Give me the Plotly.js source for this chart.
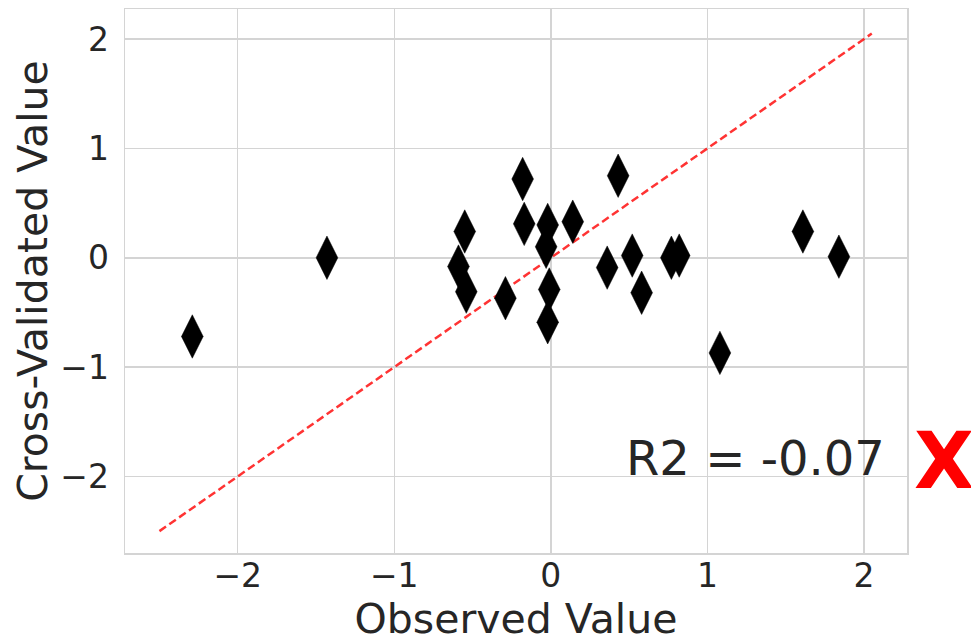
<!DOCTYPE html>
<html>
<head>
<meta charset="utf-8">
<script src="https://cdn.plot.ly/plotly-3.0.1.min.js"></script>
<style>html,body{margin:0;padding:0;background:#fff;}#chart{width:971px;height:643px;}</style>
</head>
<body>
<div id="chart"></div>
<script>
// Observed vs cross-validated values
const observed = [-2.29, -1.43, -0.59, -0.55, -0.54, -0.29, -0.18, -0.17, -0.02, -0.03, -0.01, -0.02, 0.14, 0.43, 0.36, 0.52, 0.58, 0.77, 0.82, 1.08, 1.61, 1.84];
const crossValidated = [-0.72, 0.00, -0.08, 0.24, -0.31, -0.37, 0.72, 0.31, 0.30, 0.10, -0.29, -0.59, 0.33, 0.75, -0.09, 0.02, -0.32, 0.00, 0.02, -0.87, 0.24, 0.01];
const identityLine = [-2.5, 2.05];
const tickVals = [-2, -1, 0, 1, 2];
const tickText = ["\u22122", "\u22121", "0", "1", "2"];
const r2Label = "R2 = -0.07";
const markLabel = "X";

const font = "DejaVu Sans, sans-serif";
const textColor = "#262626";
const gridColor = "#d4d4d4";

const traces = [
  {
    x: identityLine, y: identityLine, type: "scatter", mode: "lines",
    line: {color: "rgba(255,0,0,0.8)", width: 2.5, dash: "8px,4px"},
    hoverinfo: "skip", showlegend: false
  },
  {
    x: observed, y: crossValidated, type: "scatter", mode: "markers",
    marker: {symbol: "diamond-tall", size: 31, color: "#000000", line: {width: 0.5, color: "#000000"}},
    showlegend: false
  }
];

const layout = {
  width: 971, height: 643,
  margin: {l: 125, r: 64, t: 9, b: 90, pad: 0},
  paper_bgcolor: "#ffffff", plot_bgcolor: "#ffffff",
  font: {family: font, color: textColor},
  showlegend: false,
  xaxis: {
    range: [-2.72, 2.275], tickvals: tickVals, ticktext: tickText,
    showgrid: true, gridcolor: gridColor, gridwidth: 1.5, zeroline: false,
    showline: true, mirror: true, linecolor: gridColor, linewidth: 1.5,
    ticks: "", ticklabelstandoff: -7,
    tickfont: {family: font, size: 33, color: textColor},
    title: {text: "Observed Value", font: {family: font, size: 41, color: textColor}, standoff: 9},
    automargin: false
  },
  yaxis: {
    range: [-2.70, 2.275], tickvals: tickVals, ticktext: tickText,
    showgrid: true, gridcolor: gridColor, gridwidth: 1.5, zeroline: false,
    showline: true, mirror: true, linecolor: gridColor, linewidth: 1.5,
    ticks: "outside", ticklen: 8, tickcolor: "rgba(0,0,0,0)",
    tickfont: {family: font, size: 33, color: textColor},
    title: {text: "Cross-Validated Value", font: {family: font, size: 41, color: textColor}, standoff: 0},
    automargin: false
  },
  annotations: [
    {
      text: r2Label, xref: "x", yref: "y", x: 2.15, y: -1.83,
      xanchor: "right", yanchor: "middle", showarrow: false,
      font: {family: font, size: 48, color: textColor}
    },
    {
      text: "<b>" + markLabel + "</b>", xref: "paper", yref: "paper", x: 1.047, y: 0.17,
      xanchor: "center", yanchor: "middle", showarrow: false, borderpad: 0,
      font: {family: font, size: 78, color: "#ff0000"}
    }
  ]
};

Plotly.newPlot("chart", traces, layout, {displayModeBar: false, staticPlot: true});
</script>
</body>
</html>
